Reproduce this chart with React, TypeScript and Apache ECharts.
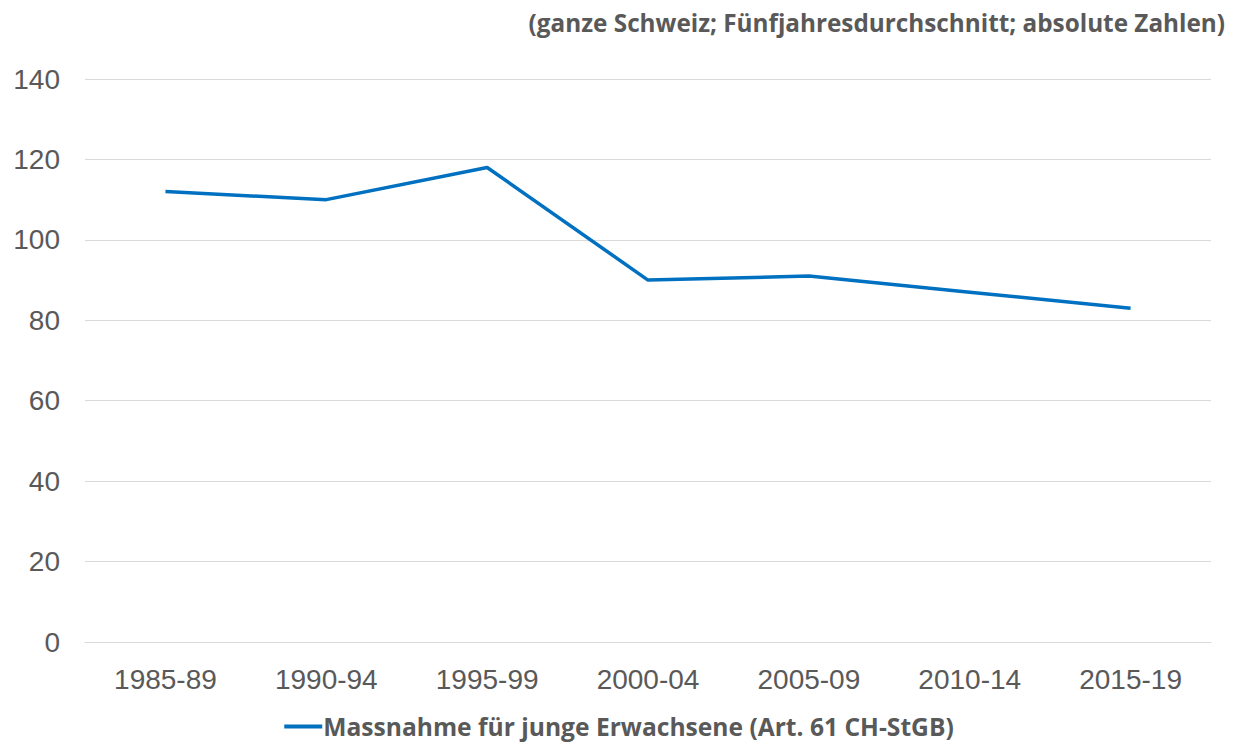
import React, { useEffect, useRef } from "react";
import * as echarts from "echarts";

const categories = ["1985-89", "1990-94", "1995-99", "2000-04", "2005-09", "2010-14", "2015-19"];
const seriesName = "Massnahme für junge Erwachsene (Art. 61 CH-StGB)";
const values = [112, 110, 118, 90, 91, 87, 83];
const subtitle = "(ganze Schweiz; Fünfjahresdurchschnitt; absolute Zahlen)";

export default function App() {
  const ref = useRef<HTMLDivElement>(null);
  useEffect(() => {
    if (!ref.current) return;
    const chart = echarts.init(ref.current, undefined, { renderer: "svg" });
    chart.setOption({
      animation: false,
      backgroundColor: "#ffffff",
      title: {
        text: subtitle,
        right: 8,
        top: 5,
        textStyle: {
          fontFamily: "Open Sans",
          fontWeight: "bold",
          fontSize: 24.3,
          color: "#595959",
        },
      },
      legend: {
        bottom: 0,
        left: "center",
        icon: "rect",
        itemWidth: 38,
        itemHeight: 4,
        itemGap: 10,
        textStyle: {
          fontFamily: "Open Sans",
          fontWeight: "bold",
          fontSize: 24.6,
          color: "#595959",
          padding: [0, 0, 0, -4],
        },
        data: [seriesName],
      },
      grid: { left: 85, right: 27, top: 79, bottom: 102, containLabel: false },
      xAxis: {
        type: "category",
        data: categories,
        boundaryGap: true,
        axisLine: { lineStyle: { color: "#d9d9d9", width: 1 } },
        axisTick: { show: false },
        axisLabel: {
          margin: 23,
          fontFamily: "Liberation Sans",
          fontSize: 28,
          color: "#595959",
        },
      },
      yAxis: {
        type: "value",
        min: 0,
        max: 140,
        interval: 20,
        axisLine: { show: false },
        axisTick: { show: false },
        splitLine: { lineStyle: { color: "#d9d9d9", width: 1 } },
        axisLabel: {
          margin: 25,
          fontFamily: "Liberation Sans",
          fontSize: 28,
          color: "#595959",
        },
      },
      series: [
        {
          name: seriesName,
          type: "line",
          data: values,
          symbol: "none",
          lineStyle: { color: "#0070C0", width: 3.5 },
          itemStyle: { color: "#0070C0" },
        },
      ],
    });
    return () => chart.dispose();
  }, []);
  return <div ref={ref} style={{ width: 1238, height: 744, position: "absolute", left: 0, top: 0 }} />;
}
